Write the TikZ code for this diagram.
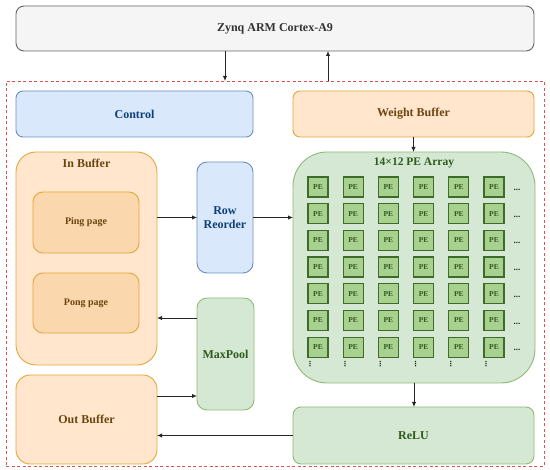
\documentclass[tikz,border=0pt]{standalone}
\usepackage{fontspec}
\setmainfont{Liberation Serif}
\newfontfamily\symfont{DejaVu Sans}
\usetikzlibrary{arrows.meta}
\definecolor{grayfill}{HTML}{F5F5F5}
\definecolor{graystroke}{HTML}{666666}
\definecolor{bluefill}{HTML}{DAE8FC}
\definecolor{bluestroke}{HTML}{6C8EBF}
\definecolor{bluetext}{HTML}{0E3F7C}
\definecolor{orfill}{HTML}{FFE6CC}
\definecolor{orfill2}{HTML}{FAD7AC}
\definecolor{orstroke}{HTML}{E3A73A}
\definecolor{ortext}{HTML}{6B4410}
\definecolor{grfill}{HTML}{D5E8D4}
\definecolor{grstroke}{HTML}{8CBB76}
\definecolor{grtext}{HTML}{2E5A1C}
\definecolor{pefill}{HTML}{A8D08F}
\definecolor{pestroke}{HTML}{3D6B2A}
\definecolor{reddash}{HTML}{E05050}
\tikzset{
  box/.style={draw, line width=0.9pt, inner sep=0pt, outer sep=0pt, align=center,
    font=\fontsize{12}{14}\selectfont\bfseries},
  graybox/.style={box, fill=grayfill, draw=graystroke, rounded corners=8pt, text=black!80},
  bluebox/.style={box, fill=bluefill, draw=bluestroke, text=bluetext},
  orbox/.style={box, fill=orfill, draw=orstroke, text=ortext},
  pagebox/.style={box, fill=orfill2, draw=orstroke, text=ortext, rounded corners=10pt,
    font=\fontsize{10}{12}\selectfont\bfseries},
  grbox/.style={box, fill=grfill, draw=grstroke, text=grtext},
  titletext/.style={inner sep=0pt, font=\fontsize{12}{14}\selectfont\bfseries},
  pecell/.style={draw=pestroke, fill=pefill, line width=1.2pt, minimum width=20pt,
    minimum height=20pt, inner sep=0pt, text=grtext, font=\fontsize{7.5}{8}\selectfont\bfseries},
  hdots/.style={inner sep=0pt, text=black!85, font=\fontsize{9}{10}\selectfont\bfseries},
  vdots/.style={inner sep=0pt, text=black!85, font=\fontsize{7}{7}\symfont\bfseries},
  arr/.style={draw=black!85, line width=0.9pt, -{Latex[length=5pt,width=4.5pt]}},
}
\begin{document}
\begin{tikzpicture}[x=1pt, y=-1pt]
\useasboundingbox (0,0) rectangle (550,470);
% outer dashed FPGA box
\node[draw=reddash, dashed, dash pattern=on 3pt off 2.5pt, line width=0.9pt,
  minimum width=538pt, minimum height=385pt, inner sep=0pt, outer sep=0pt] (fpga) at (275,273.5) {};
% Zynq
\node[graybox, minimum width=518pt, minimum height=45pt] (zynq) at (275,28.5) {Zynq ARM Cortex-A9};
% top row
\node[bluebox, rounded corners=7pt, minimum width=237pt, minimum height=46pt] (control) at (134.5,114) {Control};
\node[orbox, rounded corners=7pt, minimum width=241pt, minimum height=46pt] (weight) at (413.5,114) {Weight Buffer};
% In buffer
\node[orbox, rounded corners=20pt, minimum width=141pt, minimum height=213pt] (inbuf) at (86.5,258.5) {};
\node[titletext, text=ortext] (inbuftitle) at (86.5,163) {In Buffer};
\node[pagebox, minimum width=106pt, minimum height=61pt] (ping) at (86,222.5) {Ping page};
\node[pagebox, minimum width=106pt, minimum height=60pt] (pong) at (86,303) {Pong page};
% row reorder, maxpool
\node[bluebox, rounded corners=10pt, minimum width=56pt, minimum height=111pt] (rowre) at (225,217.5) {Row\\Reorder};
\node[grbox, rounded corners=10pt, minimum width=57pt, minimum height=112pt] (maxpool) at (225.5,354) {MaxPool};
% out buffer, relu
\node[orbox, rounded corners=14pt, minimum width=141pt, minimum height=89pt] (outbuf) at (86.5,419.5) {Out Buffer};
\node[grbox, rounded corners=8pt, minimum width=241pt, minimum height=57pt] (relu) at (413.5,435.5) {ReLU};
% PE array
\node[grbox, rounded corners=34pt, minimum width=242pt, minimum height=231pt] (pearr) at (414,267.5) {};
\node[titletext, text=grtext, font=\fontsize{11.5}{13}\selectfont\bfseries] (petitle) at (414,163) {14×12 PE Array};
\foreach \r in {1,...,7} {
  \foreach \c in {1,...,6} {
    \node[pecell] (pe-\r-\c) at ({318+35.2*(\c-1)},{187+26.7*(\r-1)}) {PE};
  }
  \node[hdots] (hd-\r) at (517,{190+26.7*(\r-1)}) {...};
}
\foreach \c in {1,...,6} {
  \node[vdots] (vd-\c) at ({310+35.2*(\c-1)},364) {⋮};
}
% connectors
\coordinate (xdown) at (225,0);
\coordinate (xup) at (328,0);
\draw[arr] (zynq.south -| xdown) -- (fpga.north -| xdown);
\draw[arr] (fpga.north -| xup) -- (zynq.south -| xup);
\draw[arr] (inbuf.east |- rowre.west) -- (rowre.west);
\draw[arr] (rowre.east) -- (rowre.east -| pearr.west);
\coordinate (ymp) at (0,318);
\coordinate (yob) at (0,396);
\draw[arr] (maxpool.west |- ymp) -- (inbuf.east |- ymp);
\draw[arr] (outbuf.east |- yob) -- (maxpool.west |- yob);
\draw[arr] (relu.west) -- (relu.west -| outbuf.east);
\draw[arr] (weight.south) -- (weight.south |- pearr.north);
\draw[arr] (pearr.south) -- (pearr.south |- relu.north);
\end{tikzpicture}
\end{document}
